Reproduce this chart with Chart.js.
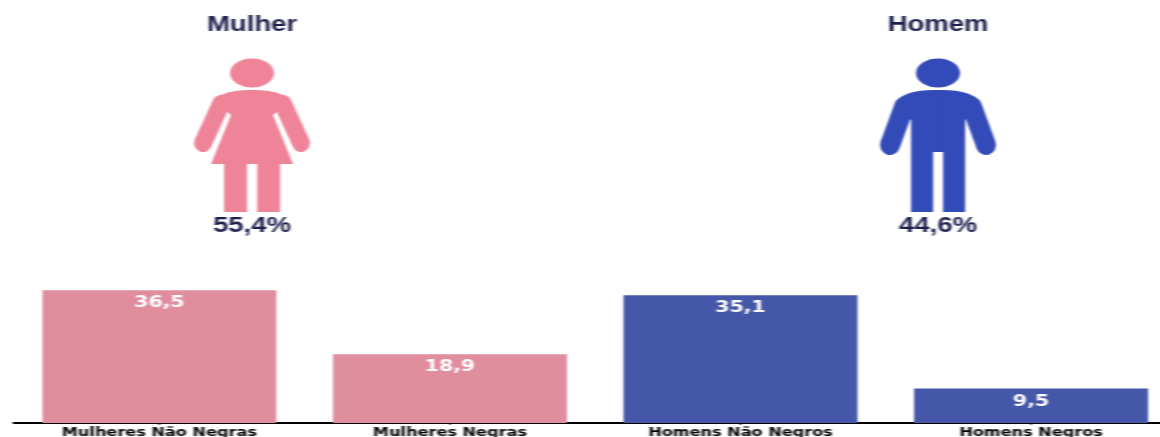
<!DOCTYPE html>
<html>
<head>
<meta charset="utf-8">
<script src="https://cdn.jsdelivr.net/npm/chart.js@4"></script>
<style>
  html, body { margin: 0; padding: 0; background: #fff; overflow: hidden; }
  #chart { display: block; transform-origin: 0 0; transform: scaleX(1.28); filter: blur(0.7px); }
</style>
</head>
<body>
<canvas id="chart" width="919" height="437"></canvas>
<script>
const categories = ['Mulheres Não Negras', 'Mulheres Negras', 'Homens Não Negros', 'Homens Negros'];
const values = [36.5, 18.9, 35.1, 9.5];
const barColors = ['#e08d9e', '#e08d9e', '#4557a8', '#4557a8'];
const figureTitles = ['Mulher', 'Homem'];
const figureShares = [55.4, 44.6];

// the source image is stretched sideways, so the canvas is too
const stretch = 1.28;
const fmt = (v) => v.toFixed(1).replace('.', ',');

const drawWomanHalf = (c) => {
  c.fillStyle = c.strokeStyle = '#ef8499';
  c.lineCap = 'round';
  c.lineWidth = 18;
  c.beginPath(); c.moveTo(31, 104); c.lineTo(49, 143); c.stroke();
  c.beginPath();
  c.moveTo(-1, 90);
  c.lineTo(0, 90);
  c.quadraticCurveTo(26, 89, 39, 100);
  c.lineTo(21, 115);
  c.lineTo(41, 164);
  c.lineTo(28, 164);
  c.lineTo(28, 212);
  c.lineTo(5, 212);
  c.lineTo(5, 164);
  c.lineTo(-1, 164);
  c.closePath();
  c.fill();
};

const drawManHalf = (c) => {
  c.fillStyle = c.strokeStyle = '#334bb8';
  c.lineCap = 'round';
  c.lineWidth = 20;
  c.beginPath(); c.moveTo(34, 107); c.lineTo(48, 145); c.stroke();
  c.beginPath();
  c.moveTo(-1, 90);
  c.lineTo(0, 90);
  c.quadraticCurveTo(32, 89, 43, 102);
  c.lineTo(27, 120);
  c.lineTo(27, 212);
  c.lineTo(5, 212);
  c.lineTo(5, 152);
  c.lineTo(-1, 152);
  c.closePath();
  c.fill();
};

const figures = [
  { cx: 252, half: drawWomanHalf, color: '#ef8499' },
  { cx: 938, half: drawManHalf, color: '#334bb8' }
];

const figurePlugin = {
  id: 'figures',
  afterDraw(chart) {
    const c = chart.ctx;
    figures.forEach((f, i) => {
      c.save();
      c.scale(1 / stretch, 1);
      c.translate(f.cx, 0);
      c.fillStyle = f.color;
      c.beginPath();
      c.ellipse(0, 73, 22, 14.5, 0, 0, Math.PI * 2);
      c.fill();
      f.half(c);
      c.scale(-1, 1);
      f.half(c);
      c.restore();

      c.save();
      c.fillStyle = '#1f1f4d';
      c.textAlign = 'center';
      c.textBaseline = 'middle';
      c.font = 'bold 21.5px "Liberation Sans"';
      c.fillText(figureTitles[i], f.cx / stretch, 25);
      c.fillText(fmt(figureShares[i]) + '%', f.cx / stretch, 226);
      c.restore();
    });
  }
};

const valuePlugin = {
  id: 'values',
  afterDatasetsDraw(chart) {
    const c = chart.ctx;
    c.save();
    c.fillStyle = '#fff';
    c.textAlign = 'center';
    c.textBaseline = 'middle';
    c.font = 'bold 16px "DejaVu Sans"';
    chart.getDatasetMeta(0).data.forEach((bar, i) => {
      c.fillText(fmt(values[i]), bar.x, bar.y + 13);
    });
    c.restore();
  }
};

new Chart(document.getElementById('chart').getContext('2d'), {
  type: 'bar',
  data: {
    labels: categories,
    datasets: [{
      data: values,
      backgroundColor: barColors,
      barPercentage: 0.805,
      categoryPercentage: 1
    }]
  },
  options: {
    responsive: false,
    animation: false,
    layout: { padding: { left: 11, top: 277.4 } },
    plugins: { legend: { display: false }, tooltip: { enabled: false } },
    scales: {
      y: { display: false, min: 0, max: 40 },
      x: {
        afterFit: (scale) => { scale.height = 14; },
        border: { color: '#000', width: 2 },
        grid: { offset: false, drawOnChartArea: false, tickLength: 2, tickColor: '#000' },
        ticks: {
          color: '#000',
          padding: 0,
          maxRotation: 0,
          font: { family: '"DejaVu Sans"', size: 12.6, weight: 'bold' }
        }
      }
    }
  },
  plugins: [valuePlugin, figurePlugin]
});
</script>
</body>
</html>
